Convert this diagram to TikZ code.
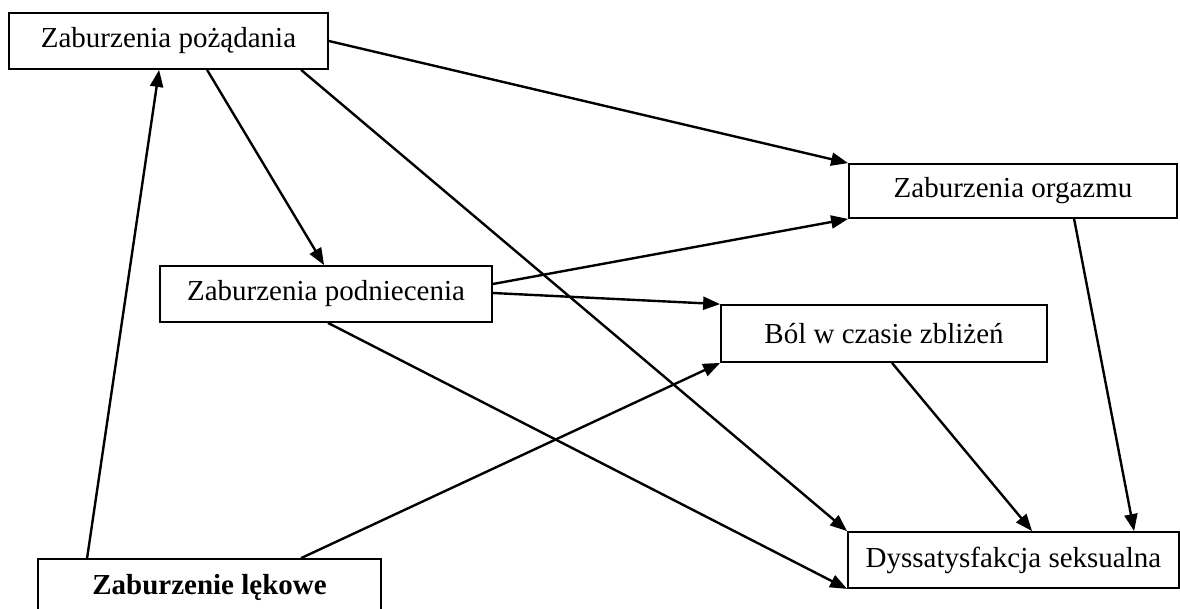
\documentclass[tikz,border=0pt]{standalone}
\usepackage{fontspec}
\setmainfont{Liberation Serif}
\usetikzlibrary{arrows.meta,calc}
\begin{document}
\begin{tikzpicture}[x=1pt,y=-1pt,
  box/.style={draw=black,line width=1.8pt,fill=white,inner sep=0pt,
    font=\fontsize{29}{34}\selectfont},
  conn/.style={line width=2.4pt,-{Triangle[length=17pt,width=13pt]}}]
\useasboundingbox (0,0) rectangle (1180,608);
\clip (0,0) rectangle (1180,608);
\fill[white] (0,0) rectangle (1180,608);
\node[box,minimum width=319pt,minimum height=56pt] (A) at (168.5,41) {Zaburzenia pożądania};
\node[box,minimum width=328pt,minimum height=54pt] (B) at (1013,191) {Zaburzenia orgazmu};
\node[box,minimum width=332pt,minimum height=56pt] (C) at (326,294) {Zaburzenia podniecenia};
\node[box,minimum width=326pt,minimum height=57pt] (D) at (884,333.5) {Ból w czasie zbliżeń};
\node[box,minimum width=331pt,minimum height=56pt] (E) at (1013.5,560) {Dyssatysfakcja seksualna};
\node[box,minimum width=343pt,minimum height=56pt] (F) at (209.5,587) {\bfseries Zaburzenie lękowe};
% connectors
\draw[conn] ($(F.north west)+(50,0)$) -- ($(A.south west)+(151,0)$);
\draw[conn] ($(F.north west)+(264,0)$) -- (D.south west);
\draw[conn] ($(A.south west)+(199,0)$) -- ($(C.north west)+(165,0)$);
\draw[conn] (A.east) -- (B.north west);
\draw[conn] ($(A.south west)+(293,0)$) -- (E.north west);
\draw[conn] ($(C.east)+(0,-10)$) -- (B.south west);
\draw[conn] ($(C.east)+(0,-1)$) -- (D.north west);
\draw[conn] ($(C.south)+(2,0)$) -- (E.south west);
\draw[conn] ($(D.south)+(8,0)$) -- ($(E.north west)+(185,0)$);
\draw[conn] ($(B.south west)+(226,0)$) -- ($(E.north west)+(287,0)$);
\end{tikzpicture}
\end{document}
